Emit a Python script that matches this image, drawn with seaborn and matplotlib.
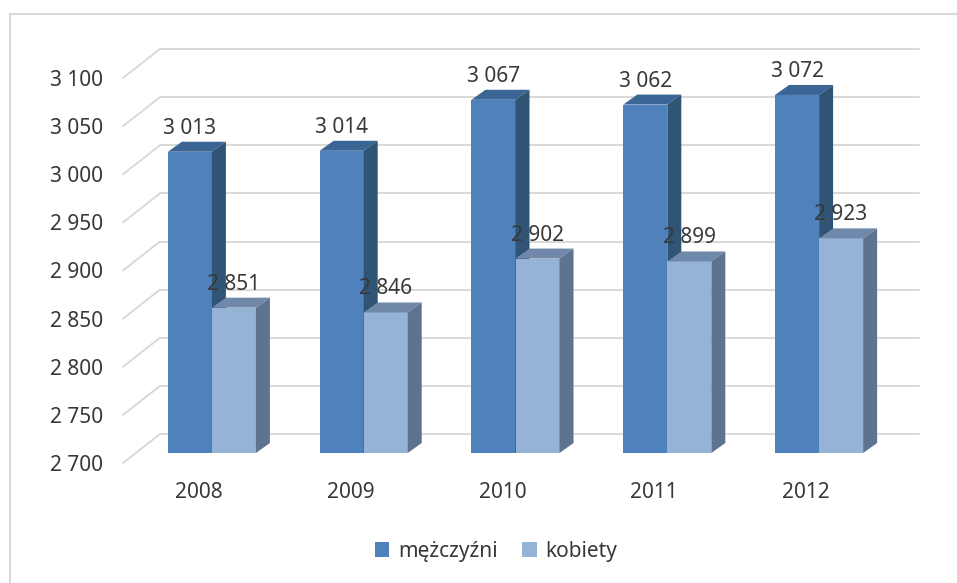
import matplotlib
matplotlib.use('Agg')
import pandas as pd
import matplotlib.pyplot as plt
import seaborn as sns
from matplotlib.patches import Polygon, Rectangle
from matplotlib.transforms import ScaledTranslation

# dane
lata = ['2008', '2009', '2010', '2011', '2012']
mezczyzni = [3013, 3014, 3067, 3062, 3072]
kobiety = [2851, 2846, 2902, 2899, 2923]
serie = ['mężczyźni', 'kobiety']
y_ticks = [2700, 2750, 2800, 2850, 2900, 2950, 3000, 3050, 3100]

df = pd.DataFrame({
    'rok': lata * 2,
    'plec': [serie[0]] * len(lata) + [serie[1]] * len(lata),
    'wartosc': mezczyzni + kobiety,
})

# kolory: przód, góra, bok
kolory_przod = {'mężczyźni': '#4f81bd', 'kobiety': '#95b3d7'}
kolory_gora = ['#3b6594', '#7089ab']
kolory_bok = ['#2f5474', '#5e7390']
szary = '#d9d9d9'
tekst = '#383838'

sns.set_style('white')
plt.rcParams['font.family'] = ['Noto Sans', 'DejaVu Sans']

W, H = 957, 583
fig = plt.figure(figsize=(W / 100, H / 100), dpi=100)
ax = fig.add_axes([136 / W, 1 - 453 / H, 759 / W, 385 / H])

sns.barplot(data=df, x='rok', y='wartosc', hue='plec', palette=kolory_przod,
            width=0.58, gap=0, saturation=1, linewidth=0, edgecolor='none',
            ax=ax, zorder=2)

ax.set_xlim(-0.5, len(lata) - 0.5)
ax.set_ylim(y_ticks[0], y_ticks[-1])

# skala w pikselach
ppu_x = 759 / (len(lata))
ppu_y = 385 / (y_ticks[-1] - y_ticks[0])
dx, dy = 14 / ppu_x, 10 / ppu_y          # głębokość słupka
bx, by = 24 / ppu_x, 19 / ppu_y          # tylna ściana
fx, fy = -13 / ppu_x, -10 / ppu_y        # przednia krawędź

# siatka na tylnej ścianie + skośne linie
for v in y_ticks:
    ax.plot([-0.5 + bx, len(lata) - 0.5 + bx], [v + by, v + by],
            color=szary, lw=1.4, zorder=0, clip_on=False)
    ax.plot([-0.5 + fx, -0.5 + bx], [v + fy, v + by],
            color=szary, lw=1.4, zorder=0, clip_on=False)

# boki i góry słupków (efekt 3D) + etykiety
yb = y_ticks[0]
for i, cont in enumerate(ax.containers):
    for bar in cont:
        x0 = bar.get_x()
        x1 = x0 + bar.get_width()
        y1 = bar.get_y() + bar.get_height()
        bar.set_zorder(2 + i)
        gora = Polygon([(x0, y1), (x1, y1), (x1 + dx, y1 + dy), (x0 + dx, y1 + dy)],
                       closed=True, facecolor=kolory_gora[i], edgecolor='none',
                       zorder=2.5 + i, clip_on=False)
        bok = Polygon([(x1, yb), (x1, y1), (x1 + dx, y1 + dy), (x1 + dx, yb + dy)],
                      closed=True, facecolor=kolory_bok[i], edgecolor='none',
                      zorder=2.5 + i, clip_on=False)
        ax.add_patch(gora)
        ax.add_patch(bok)
        ax.annotate(f'{int(round(y1)):,}'.replace(',', ' '), ((x0 + x1) / 2, y1),
                    xytext=(0, 13), textcoords='offset points', ha='center',
                    va='baseline', fontsize=15, color=tekst, zorder=10)

# osie
ax.set_yticks(y_ticks)
ax.set_yticklabels([f'{v:,}'.replace(',', ' ') for v in y_ticks])
ax.tick_params(axis='y', length=0, pad=24, labelsize=15, labelcolor=tekst)
ax.tick_params(axis='x', length=0, pad=21, labelsize=15, labelcolor=tekst)
for lab in ax.get_yticklabels():
    lab.set_transform(lab.get_transform() + ScaledTranslation(0, -0.10, fig.dpi_scale_trans))
for lab in ax.get_xticklabels():
    lab.set_transform(lab.get_transform() + ScaledTranslation(-0.13, 0, fig.dpi_scale_trans))
ax.set_xlabel('')
ax.set_ylabel('')
for s in ax.spines.values():
    s.set_visible(False)
ax.patch.set_alpha(0)

# legenda
handles, labels = ax.get_legend_handles_labels()
ax.legend(handles, labels, loc='center', bbox_to_anchor=(496 / W, 1 - 551 / H),
          bbox_transform=fig.transFigure, ncol=2, frameon=False, fontsize=15,
          handlelength=0.7, handleheight=0.7, handletextpad=0.4, columnspacing=1.2,
          labelcolor=tekst)

# ramka wykresu
fig.patches.append(Rectangle((10 / W, -0.1), 1.2, 1 - 14 / H + 0.1,
                             transform=fig.transFigure, fill=False,
                             edgecolor=szary, lw=1.5))

fig.savefig('out.png', dpi=100)
